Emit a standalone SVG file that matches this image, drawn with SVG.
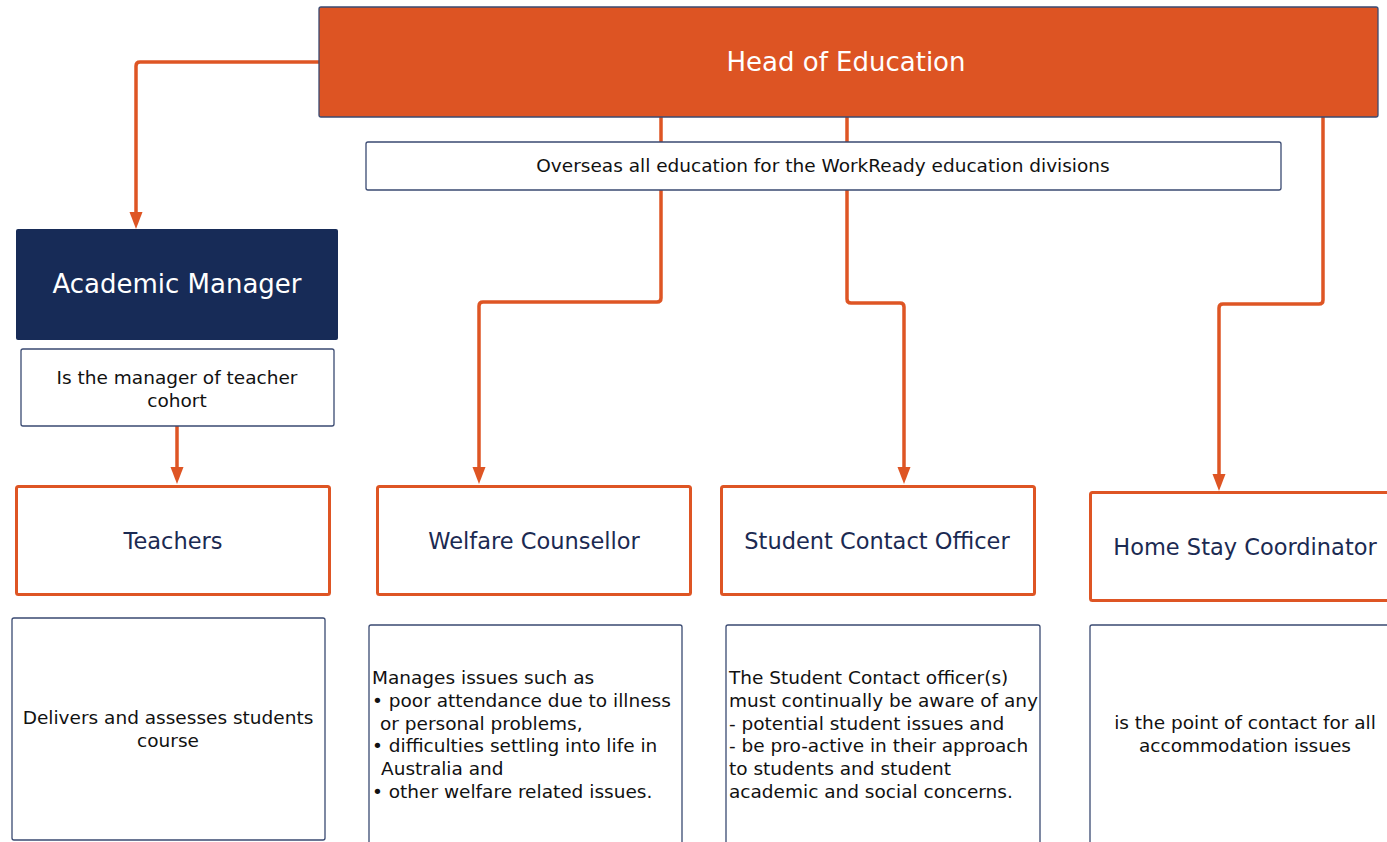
<svg xmlns="http://www.w3.org/2000/svg" width="1387" height="842" viewBox="0 0 1387 842">
  <style>
    .t { font-family: "DejaVu Sans", "Noto Sans", "Liberation Sans", sans-serif; }
    .conn { fill: none; stroke: #DE5524; stroke-width: 3.5; }
    .role { fill: #FFFFFF; stroke: #DE5524; stroke-width: 3; }
    .note { fill: #FFFFFF; stroke: #3A4A72; stroke-width: 1.3; }
    .roleText { font-size: 22.5px; fill: #1B2A52; text-anchor: middle; }
    .noteText { font-size: 18.5px; fill: #111111; }
    .mid { text-anchor: middle; }
  </style>
  <defs>
    <marker id="arrow" markerUnits="userSpaceOnUse" markerWidth="18" markerHeight="14" viewBox="0 -7 18 14" refX="0" refY="0" orient="auto">
      <path d="M0,-6.5 L17,0 L0,6.5 z" fill="#DE5524"/>
    </marker>
  </defs>

  <rect width="1387" height="842" fill="#FFFFFF"/>

  <!-- reporting lines -->
  <g id="connectors">
    <path class="conn" d="M320,62 H140 Q136,62 136,66 V212" marker-end="url(#arrow)"/>
    <path class="conn" d="M661,117 V298 Q661,302 657,302 H483 Q479,302 479,306 V467" marker-end="url(#arrow)"/>
    <path class="conn" d="M847,117 V299 Q847,303 851,303 H900 Q904,303 904,307 V467" marker-end="url(#arrow)"/>
    <path class="conn" d="M1323,117 V300 Q1323,304 1319,304 H1223 Q1219,304 1219,308 V474" marker-end="url(#arrow)"/>
    <path class="conn" d="M177,426 V467" marker-end="url(#arrow)"/>
  </g>

  <g id="head-of-education">
    <rect x="319" y="7" width="1059" height="110" rx="2" fill="#DD5423" stroke="#3A4A72" stroke-width="1.3"/>
    <text class="t mid" x="846" y="71" font-size="26" fill="#FFFFFF">Head of Education</text>
  </g>

  <g id="head-of-education-note">
    <rect class="note" x="366" y="142" width="915" height="48" rx="2"/>
    <text class="t noteText mid" x="823" y="172">Overseas all education for the WorkReady education divisions</text>
  </g>

  <g id="academic-manager">
    <rect x="16" y="229" width="322" height="111" rx="2" fill="#172B57"/>
    <text class="t mid" x="177" y="293" font-size="26" fill="#FFFFFF">Academic Manager</text>
  </g>

  <g id="academic-manager-note">
    <rect class="note" x="21" y="349" width="313" height="77" rx="2"/>
    <text class="t noteText mid" x="177" y="384">Is the manager of teacher</text>
    <text class="t noteText mid" x="177" y="407">cohort</text>
  </g>

  <g id="teachers">
    <rect class="role" x="16.5" y="486.5" width="313" height="108" rx="2"/>
    <text class="t roleText" x="173" y="549">Teachers</text>
  </g>

  <g id="welfare-counsellor">
    <rect class="role" x="377.5" y="486.5" width="313" height="108" rx="2"/>
    <text class="t roleText" x="534" y="549">Welfare Counsellor</text>
  </g>

  <g id="student-contact-officer">
    <rect class="role" x="721.5" y="486.5" width="313" height="108" rx="2"/>
    <text class="t roleText" x="877" y="549">Student Contact Officer</text>
  </g>

  <g id="home-stay-coordinator">
    <rect class="role" x="1090.5" y="492.5" width="313" height="108" rx="2"/>
    <text class="t roleText" x="1245" y="555">Home Stay Coordinator</text>
  </g>

  <g id="teachers-note">
    <rect class="note" x="12" y="618" width="313" height="222" rx="2"/>
    <text class="t noteText mid" x="168" y="724">Delivers and assesses students</text>
    <text class="t noteText mid" x="168" y="747">course</text>
  </g>

  <g id="welfare-counsellor-note">
    <rect class="note" x="369" y="625" width="313" height="230" rx="2"/>
    <text class="t noteText" x="372" y="684">Manages issues such as</text>
    <text class="t noteText" x="372" y="707">• poor attendance due to illness</text>
    <text class="t noteText" x="380" y="730">or personal problems,</text>
    <text class="t noteText" x="372" y="752">• difficulties settling into life in</text>
    <text class="t noteText" x="381" y="775">Australia and</text>
    <text class="t noteText" x="372" y="798">• other welfare related issues.</text>
  </g>

  <g id="student-contact-officer-note">
    <rect class="note" x="726" y="625" width="314" height="230" rx="2"/>
    <text class="t noteText" x="729" y="684">The Student Contact officer(s)</text>
    <text class="t noteText" x="729" y="707">must continually be aware of any</text>
    <text class="t noteText" x="729" y="730">- potential student issues and</text>
    <text class="t noteText" x="729" y="752">- be pro-active in their approach</text>
    <text class="t noteText" x="729" y="775">to students and student</text>
    <text class="t noteText" x="729" y="798">academic and social concerns.</text>
  </g>

  <g id="home-stay-coordinator-note">
    <rect class="note" x="1090" y="625" width="313" height="230" rx="2"/>
    <text class="t noteText mid" x="1245" y="729">is the point of contact for all</text>
    <text class="t noteText mid" x="1245" y="752">accommodation issues</text>
  </g>
</svg>
